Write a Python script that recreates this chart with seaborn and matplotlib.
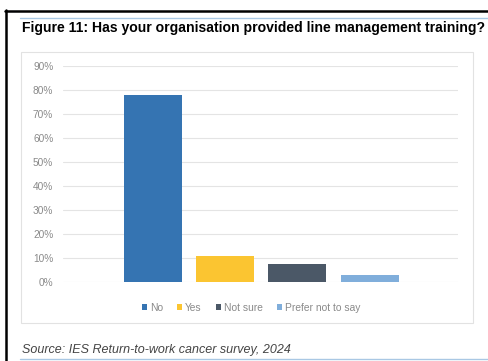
import matplotlib
matplotlib.use("Agg")
import matplotlib.pyplot as plt
import seaborn as sns
from matplotlib.patches import Patch, Rectangle
from matplotlib.lines import Line2D
from matplotlib.ticker import FuncFormatter

responses = ["No", "Yes", "Not sure", "Prefer not to say"]
values = [78, 11, 7.5, 3]
colors = ["#3574b2", "#fbc531", "#4b5867", "#80aedb"]
yticks = [0, 10, 20, 30, 40, 50, 60, 70, 80, 90]
title = "Figure 11: Has your organisation provided line management training?"
source = "Source: IES Return-to-work cancer survey, 2024"

sns.set_theme(style="white")
plt.rcParams["font.family"] = ["Liberation Sans", "DejaVu Sans"]

W, H = 488, 361
fig = plt.figure(figsize=(W / 100, H / 100), dpi=100)
fig.patch.set_facecolor("white")

def fx(x):
    return x / W

def fy(y):
    return 1 - y / H

# decorative lines (black frame left/top, light blue rules)
fig.add_artist(Line2D([fx(6), fx(6)], [fy(10), fy(361)], color="black", lw=1.8))
fig.add_artist(Line2D([fx(5), fx(488)], [fy(11), fy(11)], color="black", lw=1.8))
fig.add_artist(Line2D([fx(20), fx(488)], [fy(18), fy(18)], color="#a9c8e4", lw=1.0))
fig.add_artist(Line2D([fx(20), fx(488)], [fy(359), fy(359)], color="#a9c8e4", lw=1.0))
fig.add_artist(Rectangle((fx(21), fy(323)), fx(473) - fx(21), fy(52) - fy(323),
                         fill=False, edgecolor="#e2e2e2", lw=0.8))

fig.text(fx(22), fy(28), title, fontsize=10.1, fontweight="bold", color="#000000",
         ha="left", va="center")
fig.text(fx(22), fy(350), source, fontsize=9.0, fontstyle="italic", color="#444444",
         ha="left", va="center")

ax = fig.add_axes([fx(63), fy(282), fx(458) - fx(63), fy(66) - fy(282)])
sns.barplot(x=responses, y=values, hue=responses, palette=colors, order=responses,
            hue_order=responses, width=0.8, saturation=1, linewidth=0, ax=ax, legend=False)

ax.set_ylim(0, 90)
ax.set_xlim(-1.24, 4.22)
ax.set_yticks(yticks)
ax.yaxis.set_major_formatter(FuncFormatter(lambda v, p: f"{int(v)}%"))
ax.grid(axis="y", color="#e4e4e4", lw=0.8)
ax.set_axisbelow(True)
for s in ax.spines.values():
    s.set_visible(False)
ax.set_xticks([])
ax.set_xlabel("")
ax.set_ylabel("")
ax.tick_params(axis="y", length=0, pad=7, labelsize=7.3, labelcolor="#8a8a8a")

handles = [Patch(facecolor=c, edgecolor="none") for c in colors]
fig.legend(handles, responses, loc="center", bbox_to_anchor=(fx(251), fy(308)),
           ncol=4, frameon=False, fontsize=7.4, labelcolor="#8a8a8a",
           handlelength=0.5, handleheight=0.5, handletextpad=0.25, columnspacing=1.4)

fig.savefig("out.png", dpi=100)
